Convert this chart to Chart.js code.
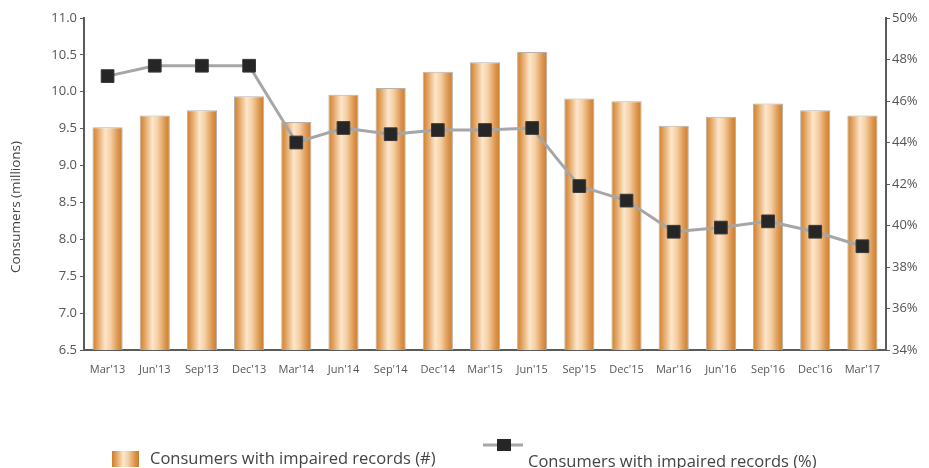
<!DOCTYPE html>
<html>
<head>
<meta charset="utf-8">
<script src="https://cdn.jsdelivr.net/npm/chart.js@4"></script>
<style>
  html, body { margin: 0; padding: 0; background: #ffffff; }
  #wrap { width: 929px; height: 468px; position: relative; }
</style>
</head>
<body>
<div id="wrap"><canvas id="chart" width="929" height="468"></canvas></div>
<script>
// Quarterly consumers with impaired credit records
const quarters = ["Mar'13", "Jun'13", "Sep'13", "Dec'13", "Mar'14", "Jun'14", "Sep'14", "Dec'14", "Mar'15",
                  "Jun'15", "Sep'15", "Dec'15", "Mar'16", "Jun'16", "Sep'16", "Dec'16", "Mar'17"];
const impairedMillions = [9.52, 9.68, 9.75, 9.94, 9.59, 9.96, 10.05, 10.27, 10.40,
                          10.54, 9.91, 9.87, 9.54, 9.66, 9.84, 9.75, 9.68];
const impairedPercent = [47.2, 47.7, 47.7, 47.7, 44.0, 44.7, 44.4, 44.6, 44.6,
                         44.7, 41.9, 41.2, 39.7, 39.9, 40.2, 39.7, 39.0];
const barLabel = "Consumers with impaired records (#)";
const lineLabel = "Consumers with impaired records (%)";
const leftTitle = "Consumers (millions)";

const FONT = "'Open Sans', 'DejaVu Sans', sans-serif";
const TEXT = '#555555';
const AXIS = '#5a5a5a';
const BAR_FRACTION = 0.64;

// Copper gradient across a bar from its left to right edge
function copper(ctx2d, left, right) {
  const g = ctx2d.createLinearGradient(left, 0, right, 0);
  g.addColorStop(0, '#cc7e2c');
  g.addColorStop(0.16, '#e2a25e');
  g.addColorStop(0.42, '#fde6cb');
  g.addColorStop(0.6, '#f5cfa3');
  g.addColorStop(0.84, '#dc964f');
  g.addColorStop(1, '#c97b2b');
  return g;
}

function barFill(context) {
  const chart = context.chart;
  const xs = chart.scales.x;
  if (!xs || !chart.chartArea || context.dataIndex === undefined) return '#e8b07a';
  const cx = xs.getPixelForValue(context.dataIndex);
  const w = (xs.width / quarters.length) * BAR_FRACTION;
  return copper(chart.ctx, cx - w / 2, cx + w / 2);
}

// Legend and rotated axis title drawn into the canvas below/left of the plot
const decorations = {
  id: 'decorations',
  afterDraw(chart) {
    const c = chart.ctx;
    c.save();
    // rotated left axis title
    c.translate(16, 207);
    c.rotate(-Math.PI / 2);
    c.font = '13.5px ' + FONT;
    c.fillStyle = '#444444';
    c.textAlign = 'center';
    c.textBaseline = 'middle';
    c.fillText(leftTitle, 0, 0);
    c.restore();

    c.save();
    // bar series swatch
    c.fillStyle = copper(c, 112, 139);
    c.fillRect(112, 451, 27, 16);
    c.font = '16.5px ' + FONT;
    c.fillStyle = '#444444';
    c.textBaseline = 'middle';
    c.textAlign = 'left';
    c.fillText(chart.data.datasets[0].label, 150, 459);

    // line series swatch
    c.strokeStyle = '#a6a6a6';
    c.lineWidth = 3;
    c.beginPath();
    c.moveTo(483, 445);
    c.lineTo(523, 445);
    c.stroke();
    c.fillStyle = '#262626';
    c.fillRect(497, 439, 14, 12);
    c.fillStyle = '#444444';
    c.fillText(chart.data.datasets[1].label, 528, 462);
    c.restore();
  }
};

new Chart(document.getElementById('chart'), {
  data: {
    labels: quarters,
    datasets: [
      {
        type: 'bar',
        label: barLabel,
        data: impairedMillions,
        yAxisID: 'y',
        backgroundColor: barFill,
        borderColor: '#b9b1a8',
        borderWidth: 1,
        categoryPercentage: 1,
        barPercentage: BAR_FRACTION,
        order: 2
      },
      {
        type: 'line',
        label: lineLabel,
        data: impairedPercent,
        yAxisID: 'y1',
        borderColor: '#a6a6a6',
        borderWidth: 3,
        pointStyle: 'rect',
        pointRadius: 9,
        pointBackgroundColor: '#262626',
        pointBorderColor: '#3a3a3a',
        pointBorderWidth: 1,
        tension: 0,
        order: 1
      }
    ]
  },
  options: {
    responsive: false,
    animation: false,
    layout: { padding: { top: 18, left: 0, right: 0, bottom: 0 } },
    plugins: {
      legend: { display: false },
      tooltip: { enabled: false },
      title: { display: false }
    },
    scales: {
      x: {
        grid: { display: false, drawTicks: false },
        border: { display: true, color: AXIS, width: 2 },
        ticks: { color: TEXT, font: { family: FONT, size: 11 }, padding: 13, maxRotation: 0, autoSkip: false },
        afterFit(scale) { scale.height = 118; }
      },
      y: {
        position: 'left',
        min: 6.5,
        max: 11,
        grid: { drawOnChartArea: false, color: AXIS, tickLength: 4 },
        border: { display: true, color: AXIS, width: 2 },
        ticks: {
          stepSize: 0.5,
          color: TEXT,
          font: { family: FONT, size: 13 },
          padding: 3,
          callback: v => Number(v).toFixed(1)
        },
        afterFit(scale) { scale.width = 84; }
      },
      y1: {
        position: 'right',
        min: 34,
        max: 50,
        grid: { drawOnChartArea: false, color: AXIS, tickLength: 4 },
        border: { display: true, color: AXIS, width: 2 },
        ticks: {
          stepSize: 2,
          color: TEXT,
          font: { family: FONT, size: 13 },
          padding: 2,
          callback: v => v + '%'
        },
        afterFit(scale) { scale.width = 43; }
      }
    }
  },
  plugins: [decorations]
});
</script>
</body>
</html>
